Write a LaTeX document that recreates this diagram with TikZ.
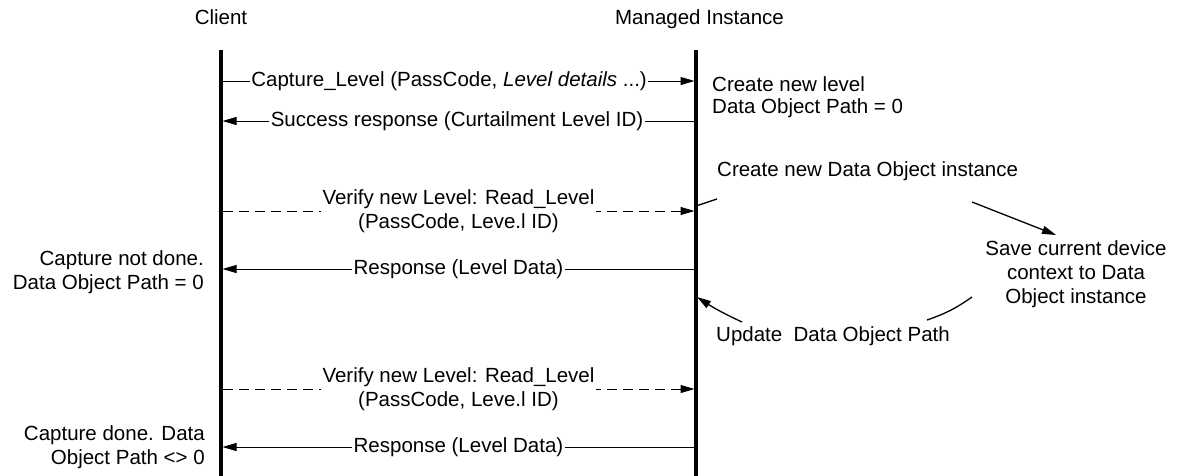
\documentclass[tikz,border=0pt]{standalone}
\usepackage{fontspec}
\setmainfont{Liberation Sans}
\usetikzlibrary{arrows.meta}
\begin{document}
\begin{tikzpicture}[x=1pt,y=-1pt,
  lifeline/.style={line width=3.2pt},
  msg/.style={line width=1pt,-{Triangle[length=14pt,width=8pt]}},
  dmsg/.style={msg,dash pattern=on 10pt off 6pt},
  lbl/.style={fill=white,inner sep=1.5pt,align=center},
  txt/.style={inner sep=0pt},
  cyc/.style={line width=1.3pt},
  cyca/.style={cyc,-{Triangle[length=14pt,width=8pt]}},
  every node/.style={font=\fontsize{20.5}{24}\selectfont}
]
\useasboundingbox (0,0) rectangle (1185,475);

% headers
\node[txt,anchor=base] (client) at (221,24) {Client};
\node[txt,anchor=base] (managed) at (699.5,24) {Managed Instance};

% lifelines
\coordinate (cl-top) at (221,50); \coordinate (cl-bot) at (221,476);
\coordinate (mi-top) at (696,50); \coordinate (mi-bot) at (696,476);
\draw[lifeline] (cl-top) -- (cl-bot);
\draw[lifeline] (mi-top) -- (mi-bot);

% message end points
\foreach \n/\y in {1/81,2/121,3/211,4/269,5/389,6/447}{
  \coordinate (L\n) at (222.5,\y);
  \coordinate (R\n) at (694.5,\y);
}

\draw[msg] (L1) -- node[lbl,pos=0.48] (t1) {Capture\_Level (PassCode, \textit{Level details} ...)} (R1);
\draw[msg] (R2) -- node[lbl,pos=0.503] (t2) {Success response (Curtailment Level ID)} (L2);
\draw[dmsg] (L3) -- node[lbl] (t3) {Verify new Level: Read\_Level\\(PassCode, Leve.l ID)} (R3);
\draw[msg] (R4) -- node[lbl] (t4) {Response (Level Data)} (L4);
\draw[dmsg] (L5) -- node[lbl] (t5) {Verify new Level: Read\_Level\\(PassCode, Leve.l ID)} (R5);
\draw[msg] (R6) -- node[lbl] (t6) {Response (Level Data)} (L6);

% notes at managed instance
\node[txt,anchor=north west,align=left,font=\fontsize{20.5}{22}\selectfont] (newlevel) at (712,76) {Create new level\\Data Object Path = 0};
\node[txt,anchor=base west] (newdo) at (717,176.7) {Create new Data Object instance};
\node[txt,anchor=north,align=center] (save) at (1076,240.5) {Save current device\\context to Data\\Object instance};
\node[txt,anchor=base west] (update) at (716,341) {Update\ \ Data Object Path};

% notes at client
\node[txt,anchor=north east,align=right] (notdone) at (204,250.5) {Capture not done.\\Data Object Path = 0};
\node[txt,anchor=north east,align=right] (done) at (205,425.5) {Capture done. Data\\Object Path <> 0};

% cycle connectors
\coordinate (c1a) at (696,206); \coordinate (c1b) at (717,199);
\coordinate (c2a) at (972,202); \coordinate (c2b) at (1056,235);
\coordinate (c3a) at (972,297); \coordinate (c3b) at (927,320);
\coordinate (c4a) at (742,322); \coordinate (c4b) at (697,297);
\draw[cyc] (c1a) -- (c1b);
\draw[cyca] (c2a) -- (c2b);
\draw[cyc] (c3a) to[bend left=8] (c3b);
\draw[cyca] (c4a) to[bend left=4] (c4b);
\end{tikzpicture}
\end{document}
